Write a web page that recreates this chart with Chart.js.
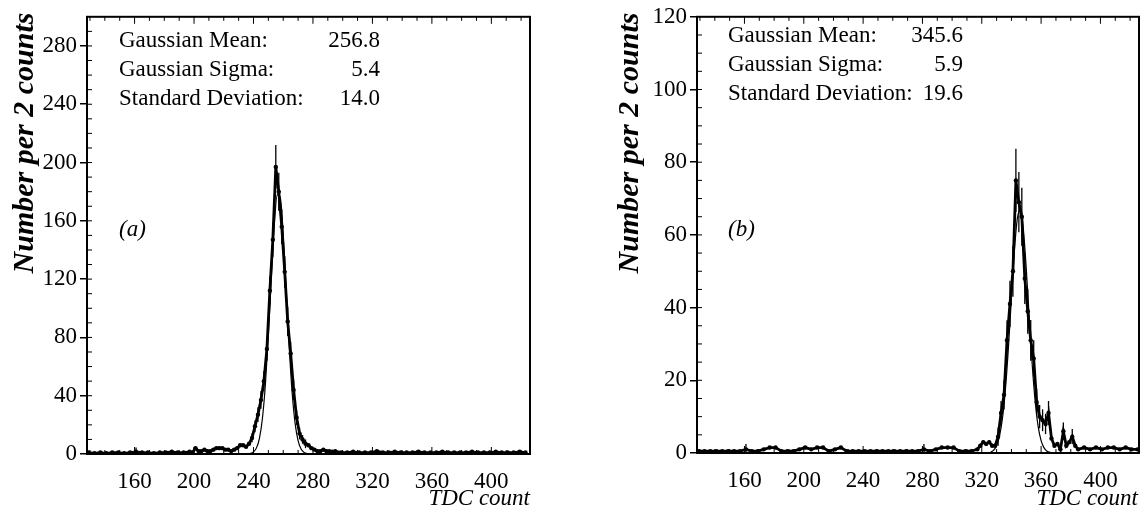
<!DOCTYPE html>
<html>
<head>
<meta charset="utf-8">
<script src="https://cdn.jsdelivr.net/npm/chart.js@4.4.0/dist/chart.umd.min.js"></script>
<style>
  body { margin: 0; background: #fff; width: 1144px; height: 516px; position: relative; overflow: hidden; }
  #wrapA { position: absolute; left: 0; top: 0; width: 560px; height: 516px; }
  #wrapB { position: absolute; left: 580px; top: 0; width: 564px; height: 516px; }
</style>
</head>
<body>
<div id="wrapA"><canvas id="chartA" width="560" height="516"></canvas></div>
<div id="wrapB"><canvas id="chartB" width="564" height="516"></canvas></div>
<script>
// tick labels
const xTicks = [160, 200, 240, 280, 320, 360, 400];
const yTicksA = [0, 40, 80, 120, 160, 200, 240, 280];
const yTicksB = [0, 20, 40, 60, 80, 100, 120];

// panel (a): TDC count bins and counts
const binsA = [129, 133, 137, 141, 145, 149, 153, 157, 161, 165, 169, 173, 177, 181, 185, 189, 193, 197,
  199, 201, 203, 205, 207, 209, 211, 213, 215, 217, 219, 221, 223, 225, 227, 229, 231, 233, 235, 237,
  239, 241, 243, 245, 247, 249, 251, 253, 255, 257, 259, 261, 263, 265, 267, 269, 271, 273, 275, 277,
  279, 281, 283, 285, 287, 289, 291, 293, 295,
  299, 303, 307, 311, 315, 319, 323, 327, 331, 335, 339, 343, 347, 351, 355, 359, 363, 367, 371, 375,
  379, 383, 387, 391, 395, 399, 403, 407, 411, 415, 419, 423];
const countsA = [1, 0.5, 1, 0.5, 1, 1, 0.5, 1, 1.5, 1, 1, 0.5, 1, 1, 1.5, 1, 1, 1.5,
  1, 4, 2, 2, 3, 2, 2, 3, 4, 4, 4, 3, 3, 2, 3, 4, 6, 6, 5, 7,
  11, 19, 27, 37, 50, 72, 112, 147, 197, 180, 156, 125, 91, 69, 44, 25, 14, 10, 7, 6,
  4, 3, 2, 2, 3, 2, 2, 1.5, 2,
  1, 1, 1.5, 1, 1, 1, 2, 1, 1, 1.5, 1, 1, 1, 1.5, 1, 1, 1, 1.5, 1, 1,
  1, 1, 1.5, 1, 1, 1, 1.5, 1, 1, 1, 1.5, 1];
const fitXA = [234, 236, 238, 240, 242, 244, 246, 248, 250, 252, 254, 256, 258, 260, 262, 264, 266, 268, 270, 272, 274, 276, 278];
const fitYA = [0, 0.1, 0.4, 1.4, 4.2, 10.8, 24.4, 47.7, 81.4, 121, 157, 178, 176, 151, 113, 74, 42, 21, 9.1, 3.4, 1.1, 0.3, 0];
const errXA = [161, 239, 241, 243, 245, 247, 249, 251, 253, 255, 257, 259, 261, 263, 265, 267, 269, 271, 273, 275];
const errA = [3, 3, 4, 5, 6, 7, 8, 10, 12, 15, 13, 12, 11, 10, 8, 7, 5, 4, 3, 3];
const statsA = [['Gaussian Mean:', '256.8'], ['Gaussian Sigma:', '5.4'], ['Standard Deviation:', '14.0']];

// panel (b)
const binsB = [129, 133, 137, 141, 145, 149, 153, 157, 161, 165, 169, 173, 177, 181, 185, 189,
  193, 197, 201, 205, 209, 213, 217, 221, 225, 229, 233, 237, 241, 245, 249, 253,
  257, 261, 265, 269, 273, 277, 281, 285, 289, 293, 297, 301, 305, 309, 313, 317,
  319, 321, 323, 325, 327, 329, 331, 333, 335, 337, 339, 341, 343, 345, 347, 349, 351, 353, 355, 357,
  359, 361, 363, 365, 367, 369, 371, 373, 375, 377, 379, 381, 383, 385,
  389, 393, 397, 401, 405, 409, 413, 417, 421, 425];
const countsB = [0.5, 0.5, 0.5, 0.5, 0.5, 0.5, 0.5, 0.5, 1, 0.5, 0.5, 1, 1.5, 1.5, 0.5, 0.5,
  0.5, 1, 1.5, 1, 1.5, 1.5, 0.5, 1, 1.5, 0.5, 0.5, 0.5, 0.5, 0.5, 0.5, 0.5,
  0.5, 0.5, 0.5, 0.5, 0.5, 0.5, 1, 0.5, 1, 1.5, 1.5, 1.5, 0.5, 0.5, 0.5, 1,
  2, 3, 2.5, 3, 2, 2, 4.5, 11, 16, 31, 41, 50, 75, 69, 65, 48, 39, 31, 26, 14,
  10, 9, 8, 11, 4, 2, 2.5, 1, 6, 2, 3, 4.5, 2, 1,
  1.5, 1, 1.5, 1, 1.5, 1.5, 1, 1.5, 1, 1];
const fitXB = [326, 328, 330, 332, 334, 336, 338, 340, 342, 344, 346, 348, 350, 352, 354, 356, 358, 360, 362, 364, 366, 368];
const fitYB = [0.2, 0.8, 2.0, 4.7, 9.7, 17.8, 29.2, 42.7, 55.6, 64.6, 66.9, 61.7, 50.7, 37.2, 24.3, 14.2, 7.3, 3.4, 1.4, 0.5, 0.2, 0];
const errXB = [161, 281, 331, 333, 335, 337, 339, 341, 343, 345, 347, 349, 351, 353, 355, 357, 359, 361, 363, 365, 375, 381];
const errB = [1.5, 1.5, 2.5, 3.3, 4, 5.5, 6.4, 7, 8.7, 8.3, 8, 7, 6.2, 5.6, 5, 3.7, 3.2, 3, 2.8, 3.3, 2.4, 2.1];
const statsB = [['Gaussian Mean:', '345.6'], ['Gaussian Sigma:', '5.9'], ['Standard Deviation:', '19.6']];

const serif = '"Liberation Serif", "Times New Roman", serif';

function framePlugin(o) {
  return {
    id: 'frame' + o.tag,
    afterDatasetsDraw(chart) {
      const ctx = chart.ctx, xs = chart.scales.x, ys = chart.scales.y;
      ctx.save();
      ctx.strokeStyle = '#000';
      ctx.lineWidth = 1.3;
      o.errX.forEach((x, i) => {
        const k = o.bins.indexOf(x);
        if (k < 0) return;
        const v = o.counts[k];
        const px = xs.getPixelForValue(x);
        ctx.beginPath();
        ctx.moveTo(px, ys.getPixelForValue(v + o.err[i]));
        ctx.lineTo(px, ys.getPixelForValue(Math.max(0, v - o.err[i])));
        ctx.stroke();
      });
      ctx.restore();
    },
    afterDraw(chart) {
      const ctx = chart.ctx, a = chart.chartArea, xs = chart.scales.x, ys = chart.scales.y;
      ctx.save();
      ctx.strokeStyle = '#000';
      ctx.lineWidth = 2;
      ctx.strokeRect(a.left, a.top, a.right - a.left, a.bottom - a.top);
      // minor ticks
      ctx.lineWidth = 1;
      ctx.beginPath();
      for (let v = o.yMinor; v < o.ymax; v += o.yMinor) {
        const py = ys.getPixelForValue(v);
        ctx.moveTo(a.left, py); ctx.lineTo(a.left + 5, py);
      }
      for (let v = 130; v <= 420; v += 10) {
        const px = xs.getPixelForValue(v);
        const len = v % 40 === 0 ? 7 : 4;
        ctx.moveTo(px, a.bottom); ctx.lineTo(px, a.bottom - len);
        ctx.moveTo(px, a.top); ctx.lineTo(px, a.top + len);
      }
      ctx.stroke();
      // stats box
      ctx.fillStyle = '#000';
      ctx.font = '23px ' + serif;
      ctx.textBaseline = 'middle';
      o.stats.forEach((s, i) => {
        ctx.textAlign = 'left';
        ctx.fillText(s[0], o.statX, o.statY[i]);
        ctx.textAlign = 'right';
        ctx.fillText(s[1], o.valX, o.statY[i]);
      });
      ctx.font = 'italic 23px ' + serif;
      ctx.textAlign = 'left';
      ctx.fillText(o.tag, o.statX, 230);
      ctx.textAlign = 'right';
      ctx.fillText('TDC count', o.tdcX, 499);
      // y title
      ctx.save();
      ctx.translate(o.titleX, 143);
      ctx.rotate(-Math.PI / 2);
      ctx.textAlign = 'center';
      ctx.font = 'italic 600 30px ' + serif;
      ctx.fillText('Number per 2 counts', 0, 0);
      ctx.restore();
      ctx.restore();
    }
  };
}

function makePanel(id, o) {
  const tickFont = { family: serif, size: 23 };
  return new Chart(document.getElementById(id).getContext('2d'), {
    type: 'line',
    data: {
      datasets: [{
        data: o.bins.map((x, i) => ({ x: x, y: o.counts[i] })),
        borderColor: '#000',
        borderWidth: 2.8,
        pointRadius: 2.2,
        pointBackgroundColor: '#000',
        pointBorderWidth: 0,
        tension: 0
      }, {
        data: o.fitX.map((x, i) => ({ x: x, y: o.fitY[i] })),
        borderColor: '#000',
        borderWidth: 1.2,
        pointRadius: 0,
        cubicInterpolationMode: 'monotone'
      }]
    },
    options: {
      responsive: false,
      animation: false,
      layout: { padding: { top: o.top, right: o.right, left: 0, bottom: 0 } },
      plugins: { legend: { display: false }, tooltip: { enabled: false } },
      scales: {
        x: {
          type: 'linear', min: 128, max: 426,
          afterBuildTicks: s => { s.ticks = xTicks.map(v => ({ value: v })); },
          afterFit: s => { s.height = o.xh; },
          grid: { display: false },
          border: { display: false },
          ticks: { font: tickFont, color: '#000', padding: 6, maxRotation: 0, autoSkip: false }
        },
        y: {
          min: 0, max: o.ymax,
          afterBuildTicks: s => { s.ticks = o.yTicks.map(v => ({ value: v })); },
          afterFit: s => { s.width = o.yw; },
          grid: { drawOnChartArea: false, tickLength: 7, color: '#000', lineWidth: 1.5 },
          border: { display: false },
          ticks: { font: tickFont, color: '#000', padding: 3, autoSkip: false }
        }
      }
    },
    plugins: [framePlugin(o)]
  });
}

makePanel('chartA', {
  tag: '(a)', bins: binsA, counts: countsA, fitX: fitXA, fitY: fitYA, errX: errXA, err: errA,
  stats: statsA, yTicks: yTicksA, ymax: 300, yMinor: 10,
  top: 16, right: 30, xh: 62, yw: 87,
  statX: 119, valX: 380, statY: [41, 70, 99], tdcX: 530, titleX: 25
});
makePanel('chartB', {
  tag: '(b)', bins: binsB, counts: countsB, fitX: fitXB, fitY: fitYB, errX: errXB, err: errB,
  stats: statsB, yTicks: yTicksB, ymax: 120, yMinor: 5,
  top: 14, right: 5, xh: 63, yw: 117,
  statX: 148, valX: 383, statY: [36, 65, 94], tdcX: 558, titleX: 50
});
</script>
</body>
</html>
